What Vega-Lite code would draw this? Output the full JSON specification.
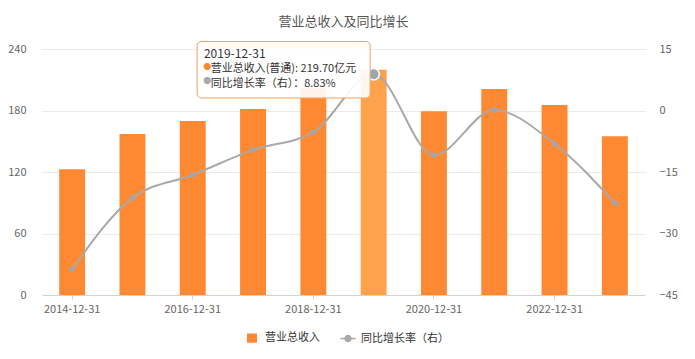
{
  "$schema": "https://vega.github.io/schema/vega-lite/v6.json",
  "width": 603,
  "height": 246,
  "autosize": {"type": "none"},
  "padding": {"left": 42, "top": 49, "right": 50, "bottom": 64},
  "background": "white",
  "config": {
    "view": {"stroke": null},
    "font": "Noto Sans CJK SC",
    "axis": {"labelFont": "Noto Sans CJK SC", "labelFontSize": 11, "labelColor": "#666666"}
  },
  "title": {
    "text": "营业总收入及同比增长",
    "fontSize": 13,
    "fontWeight": "normal",
    "color": "#555555",
    "anchor": "middle",
    "offset": 12,
    "font": "Noto Sans CJK SC"
  },
  "data": {
    "values": [
      {"date": "2014-12-31", "revenue": 122.6, "growth": -38.7},
      {"date": "2015-12-31", "revenue": 157.0, "growth": -21.3},
      {"date": "2016-12-31", "revenue": 169.8, "growth": -15.7},
      {"date": "2017-12-31", "revenue": 181.5, "growth": -9.6},
      {"date": "2018-12-31", "revenue": 201.9, "growth": -5.3},
      {"date": "2019-12-31", "revenue": 219.7, "growth": 8.83},
      {"date": "2020-12-31", "revenue": 179.2, "growth": -10.9},
      {"date": "2021-12-31", "revenue": 201.0, "growth": 0.1},
      {"date": "2022-12-31", "revenue": 185.4, "growth": -8.1},
      {"date": "2023-12-31", "revenue": 154.8, "growth": -22.6}
    ]
  },
  "encoding": {
    "x": {
      "field": "date",
      "type": "ordinal",
      "scale": {"paddingInner": 0.57, "paddingOuter": 0.285},
      "axis": {
        "title": null,
        "values": ["2014-12-31", "2016-12-31", "2018-12-31", "2020-12-31", "2022-12-31"],
        "labelAngle": 0,
        "tickSize": 4,
        "tickColor": "#CCD3DE",
        "domainColor": "#CCD3DE",
        "labelPadding": 4,
        "grid": false
      }
    }
  },
  "layer": [
    {
      "mark": {"type": "bar"},
      "encoding": {
        "y": {
          "field": "revenue",
          "type": "quantitative",
          "scale": {"domain": [0, 240], "nice": false},
          "axis": {
            "title": null,
            "values": [0, 60, 120, 180, 240],
            "grid": true,
            "gridColor": "#EBEBEB",
            "domain": false,
            "ticks": false,
            "labelPadding": 16
          }
        },
        "color": {
          "condition": {"test": "datum.date === '2019-12-31'", "value": "#FFA24C"},
          "datum": "营业总收入",
          "scale": {"domain": ["营业总收入", "同比增长率（右）"], "range": ["#FF8833", "#A9A9A9"]},
          "legend": {
            "orient": "none",
            "legendX": 200,
            "legendY": 279,
            "direction": "horizontal",
            "title": null,
            "labelFontSize": 11,
            "labelColor": "#333333",
            "labelFont": "Noto Sans CJK SC",
            "symbolSize": 324,
            "labelOffset": 3,
            "columnPadding": 17,
            "encode": {
              "symbols": {
                "update": {
                  "shape": {"signal": "datum.value === '营业总收入' ? 'M-0.47,-0.42H0.47V0.42H-0.47Z' : 'M-0.85,0H0.85M-0.33,0A0.33,0.33,0,1,1,0.33,0A0.33,0.33,0,1,1,-0.33,0Z'"},
                  "fill": {"scale": "color", "field": "value"},
                  "stroke": {"scale": "color", "field": "value"},
                  "strokeWidth": {"value": 1.5},
                  "opacity": {"value": 1}
                }
              }
            }
          }
        }
      }
    },
    {
      "encoding": {
        "y": {
          "field": "growth",
          "type": "quantitative",
          "scale": {"domain": [-45, 15], "nice": false},
          "axis": {
            "title": null,
            "orient": "right",
            "values": [-45, -30, -15, 0, 15],
            "grid": false,
            "domain": false,
            "ticks": false,
            "labelPadding": 14
          }
        }
      },
      "layer": [
        {
          "mark": {"type": "line", "interpolate": "monotone", "strokeWidth": 2},
          "encoding": {"color": {"datum": "同比增长率（右）"}}
        },
        {
          "mark": {"type": "point", "filled": true, "fill": "#9EA7AE", "opacity": 1},
          "encoding": {
            "size": {"condition": {"test": "datum.date === '2019-12-31'", "value": 130}, "value": 30},
            "stroke": {"condition": {"test": "datum.date === '2019-12-31'", "value": "#FFFFFF"}, "value": "#9EA7AE"},
            "strokeWidth": {"condition": {"test": "datum.date === '2019-12-31'", "value": 1.5}, "value": 0}
          }
        }
      ]
    },
    {
      "transform": [{"filter": "datum.date === '2019-12-31'"}],
      "encoding": {
        "y": {"datum": 231.7, "type": "quantitative", "scale": {"domain": [0, 240], "nice": false}, "axis": null}
      },
      "layer": [
        {
          "mark": {"type": "bar", "width": 173, "xOffset": -90, "fill": "#FFFFFF", "fillOpacity": 0.9, "stroke": "#F3A060", "strokeWidth": 1, "cornerRadius": 4},
          "encoding": {
            "y": {"datum": 247.3, "type": "quantitative"},
            "y2": {"datum": 192.2}
          }
        },
        {
          "mark": {"type": "text", "align": "left", "baseline": "alphabetic", "dx": -169.7, "fontSize": 12, "color": "#333333", "font": "Noto Sans CJK SC"},
          "encoding": {"text": {"field": "date"}}
        },
        {
          "mark": {"type": "text", "align": "center", "baseline": "middle", "dx": -166.4, "fontSize": 8, "color": "#FF8833"},
          "encoding": {"y": {"datum": 221.5, "type": "quantitative"}, "text": {"value": "●"}}
        },
        {
          "mark": {"type": "text", "align": "left", "baseline": "alphabetic", "dx": -163, "fontSize": 11, "color": "#333333", "font": "Noto Sans CJK SC"},
          "encoding": {"y": {"datum": 217.6, "type": "quantitative"}, "text": {"value": "营业总收入(普通): 219.70亿元"}}
        },
        {
          "mark": {"type": "text", "align": "center", "baseline": "middle", "dx": -166.4, "fontSize": 8, "color": "#A9A9A9"},
          "encoding": {"y": {"datum": 207.8, "type": "quantitative"}, "text": {"value": "●"}}
        },
        {
          "mark": {"type": "text", "align": "left", "baseline": "alphabetic", "dx": -163, "fontSize": 11, "color": "#333333", "font": "Noto Sans CJK SC"},
          "encoding": {"y": {"datum": 203.4, "type": "quantitative"}, "text": {"value": "同比增长率（右）：8.83%"}}
        }
      ]
    }
  ],
  "resolve": {"scale": {"y": "independent"}}
}
